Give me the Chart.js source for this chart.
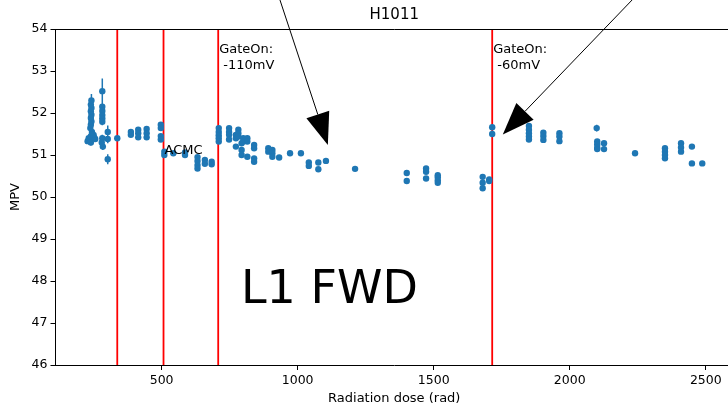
<!DOCTYPE html>
<html>
<head>
<meta charset="utf-8">
<script src="https://cdn.jsdelivr.net/npm/chart.js@4"></script>
<style>
  html, body { margin: 0; padding: 0; background: #fff; overflow: hidden; }
  #wrap { width: 740px; height: 408px; }
</style>
</head>
<body>
<div id="wrap"><canvas id="chart" width="740" height="408"></canvas></div>
<script>
// dose (rad), MPV and the MPV error of every measurement
const dose = [
    228, 232, 236, 240, 244, 238, 240, 242, 240, 242, 240, 242, 240, 242, 240, 252, 256, 250,
    282, 282, 282, 282, 282, 282, 282, 280, 284,
    302, 302, 302,
    337,
    387, 387,
    414, 414, 414,
    445, 445, 445,
    497, 497, 497, 497,
    510, 510,
    543,
    586, 586,
    632, 632, 632, 632,
    659, 659,
    684, 684,
    710, 710, 710, 710, 710,
    748, 748, 748, 748,
    773, 773, 773,
    782, 782, 782,
    794, 794, 794,
    800, 800,
    815, 815, 815,
    840, 840, 840, 840,
    892, 892,
    907, 907, 907,
    932, 972, 1012,
    1041, 1041,
    1076, 1076,
    1104, 1211,
    1401, 1401,
    1472, 1472, 1472,
    1515, 1515, 1515, 1515,
    1680, 1680, 1680,
    1704, 1704,
    1715, 1715,
    1850, 1850, 1850, 1850, 1850,
    1903, 1903, 1903,
    1962, 1962, 1962,
    2099,
    2101, 2101, 2101, 2101,
    2126, 2126,
    2240,
    2350, 2350, 2350, 2350,
    2409, 2409, 2409,
    2449, 2449,
    2487
];
const mpv = [
    51.33, 51.40, 51.36, 51.45, 51.55, 51.64, 51.72, 51.80, 51.88, 51.96, 52.04, 52.12, 52.20, 52.30, 51.30, 51.42, 51.38, 51.48,
    52.52, 52.15, 52.05, 51.95, 51.87, 51.79, 51.40, 51.30, 51.20,
    51.55, 51.38, 50.90,
    51.40,
    51.55, 51.48,
    51.60, 51.52, 51.42,
    51.62, 51.52, 51.42,
    51.72, 51.64, 51.45, 51.37,
    51.08, 51.00,
    51.04,
    51.06, 51.00,
    50.95, 50.86, 50.76, 50.68,
    50.88, 50.79,
    50.84, 50.78,
    51.64, 51.55, 51.47, 51.40, 51.32,
    51.64, 51.55, 51.48, 51.37,
    51.48, 51.40, 51.20,
    51.60, 51.52, 51.44,
    51.28, 51.12, 51.00,
    51.40, 51.32,
    51.40, 51.32, 50.96,
    51.24, 51.16, 50.92, 50.84,
    51.16, 51.08,
    51.12, 51.04, 50.96,
    50.94, 51.04, 51.04,
    50.82, 50.74,
    50.82, 50.66,
    50.86, 50.67,
    50.57, 50.38,
    50.68, 50.60, 50.44,
    50.52, 50.47, 50.40, 50.34,
    50.48, 50.34, 50.21,
    50.42, 50.38,
    51.66, 51.50,
    51.69, 51.60, 51.52, 51.44, 51.37,
    51.53, 51.45, 51.36,
    51.52, 51.44, 51.33,
    51.64,
    51.32, 51.25, 51.17, 51.14,
    51.28, 51.14,
    51.04,
    51.16, 51.08, 51.00, 50.92,
    51.28, 51.18, 51.08,
    51.20, 50.80,
    50.80
];
const mpvErr = [
    0.05, 0.05, 0.05, 0.06, 0.06, 0.07, 0.08, 0.08, 0.08, 0.09, 0.10, 0.10, 0.12, 0.15, 0.08, 0.06, 0.05, 0.05,
    0.30, 0.12, 0.10, 0.10, 0.08, 0.08, 0.08, 0.07, 0.08,
    0.15, 0.10, 0.12,
    0.03,
    0.04, 0.04,
    0.04, 0.04, 0.04,
    0.04, 0.04, 0.04,
    0.05, 0.04, 0.04, 0.04,
    0.04, 0.03,
    0.03,
    0.03, 0.03,
    0.04, 0.04, 0.04, 0.04,
    0.03, 0.03,
    0.03, 0.03,
    0.04, 0.03, 0.03, 0.03, 0.03,
    0.04, 0.04, 0.04, 0.04,
    0.04, 0.04, 0.04,
    0.04, 0.04, 0.04,
    0.04, 0.04, 0.04,
    0.03, 0.03,
    0.03, 0.03, 0.03,
    0.04, 0.04, 0.04, 0.04,
    0.03, 0.03,
    0.03, 0.03, 0.03,
    0.03, 0.03, 0.03,
    0.03, 0.03,
    0.03, 0.03,
    0.03, 0.03,
    0.03, 0.03,
    0.03, 0.03, 0.03,
    0.03, 0.03, 0.03, 0.03,
    0.03, 0.03, 0.03,
    0.03, 0.03,
    0.03, 0.03,
    0.04, 0.04, 0.04, 0.04, 0.04,
    0.03, 0.03, 0.03,
    0.03, 0.03, 0.03,
    0.08,
    0.03, 0.03, 0.03, 0.03,
    0.03, 0.03,
    0.03,
    0.04, 0.04, 0.04, 0.04,
    0.03, 0.03, 0.03,
    0.06, 0.03,
    0.03
];

// dose where something changed (red lines)
const eventDose = [337, 507, 708, 1715];

const xTicks = [500, 1000, 1500, 2000, 2500];
const yTicks = [46, 47, 48, 49, 50, 51, 52, 53, 54];

// texts and arrows, placed in data coordinates
const notes = [
    { x: 708, y: 53.5, lines: ['GateOn:', ' -110mV'], size: 13 },
    { x: 1715, y: 53.5, lines: ['GateOn:', ' -60mV'], size: 13 },
    { x: 507, y: 51.1, lines: ['ACMC'], size: 13 },
    { x: 788, y: 47.76, lines: ['L1 FWD'], size: 46 }
];
const arrows = [
    { fromX: 935, fromY: 54.69, toX: 1111, toY: 51.24 },
    { fromX: 2229, fromY: 54.69, toX: 1754, toY: 51.49 }
];

const blue = '#1f77b4';
const font = 'DejaVu Sans';

const points = dose.map((d, i) => ({ x: d, y: mpv[i] }));

const datasets = [{
    type: 'scatter',
    data: points,
    pointRadius: 3.2,
    pointBorderWidth: 0,
    pointBackgroundColor: blue
}];
eventDose.forEach(d => {
    datasets.push({
        type: 'line',
        data: [{ x: d, y: 46 }, { x: d, y: 54 }],
        borderColor: '#ff0000',
        borderWidth: 1.8,
        pointRadius: 0
    });
});

// error bars, drawn just before the points
const errorBars = {
    id: 'errorBars',
    beforeDatasetDraw(chart, args) {
        if (args.index !== 0) return;
        const ctx = chart.ctx;
        const xs = chart.scales.x, ys = chart.scales.y;
        ctx.save();
        ctx.strokeStyle = blue;
        ctx.lineWidth = 1.5;
        ctx.beginPath();
        dose.forEach((d, i) => {
            const px = xs.getPixelForValue(d);
            ctx.moveTo(px, ys.getPixelForValue(mpv[i] - mpvErr[i]));
            ctx.lineTo(px, ys.getPixelForValue(mpv[i] + mpvErr[i]));
        });
        ctx.stroke();
        ctx.restore();
    }
};

const decorations = {
    id: 'decorations',
    afterDraw(chart) {
        const ctx = chart.ctx;
        const area = chart.chartArea;
        const xs = chart.scales.x, ys = chart.scales.y;
        ctx.save();

        // top and right spines
        ctx.strokeStyle = '#000';
        ctx.lineWidth = 1;
        ctx.beginPath();
        ctx.moveTo(area.left, area.top + 0.5);
        ctx.lineTo(area.right, area.top + 0.5);
        ctx.lineTo(area.right, area.bottom);
        ctx.stroke();

        ctx.fillStyle = '#000';
        ctx.textBaseline = 'middle';

        // title and axis labels
        const cx = (area.left + area.right) / 2;
        ctx.textAlign = 'center';
        ctx.font = '15px "' + font + '"';
        ctx.fillText('H1011', cx, 15);
        ctx.font = '13px "' + font + '"';
        ctx.fillText('Radiation dose (rad)', cx, 399);
        ctx.save();
        ctx.translate(16, (area.top + area.bottom) / 2);
        ctx.rotate(-Math.PI / 2);
        ctx.fillText('MPV', 0, 0);
        ctx.restore();

        // notes
        ctx.textAlign = 'left';
        notes.forEach(n => {
            ctx.font = n.size + 'px "' + font + '"';
            const px = xs.getPixelForValue(n.x) + 1;
            const py = ys.getPixelForValue(n.y);
            n.lines.forEach((t, k) => ctx.fillText(t, px, py + k * n.size * 1.2));
        });

        // arrows
        arrows.forEach(a => {
            const x0 = xs.getPixelForValue(a.fromX), y0 = ys.getPixelForValue(a.fromY);
            const x1 = xs.getPixelForValue(a.toX), y1 = ys.getPixelForValue(a.toY);
            const len = Math.hypot(x1 - x0, y1 - y0);
            const ux = (x1 - x0) / len, uy = (y1 - y0) / len;
            const headLen = 32, headHalf = 12;
            const bx = x1 - ux * headLen, by = y1 - uy * headLen;
            ctx.beginPath();
            ctx.moveTo(x0, y0);
            ctx.lineTo(bx, by);
            ctx.lineWidth = 1;
            ctx.stroke();
            ctx.beginPath();
            ctx.moveTo(x1, y1);
            ctx.lineTo(bx - uy * headHalf, by + ux * headHalf);
            ctx.lineTo(bx + uy * headHalf, by - ux * headHalf);
            ctx.closePath();
            ctx.fill();
        });

        ctx.restore();
    }
};

new Chart(document.getElementById('chart'), {
    type: 'scatter',
    data: { datasets: datasets },
    options: {
        responsive: false,
        devicePixelRatio: 1,
        animation: false,
        events: [],
        layout: { padding: { top: 29, right: 7, left: 0, bottom: 0 } },
        plugins: {
            legend: { display: false },
            tooltip: { enabled: false },
            title: { display: false }
        },
        scales: {
            x: {
                type: 'linear',
                min: 110,
                max: 2600,
                afterBuildTicks: scale => { scale.ticks = xTicks.map(v => ({ value: v })); },
                afterFit: scale => { scale.height = 43; },
                grid: { drawOnChartArea: false, drawTicks: true, tickLength: 5, color: '#000' },
                border: { display: true, color: '#000', width: 1 },
                ticks: {
                    color: '#000',
                    padding: 3,
                    maxRotation: 0,
                    autoSkip: false,
                    font: { family: font, size: 12.5 },
                    callback: v => String(v)
                }
            },
            y: {
                type: 'linear',
                min: 46,
                max: 54,
                afterBuildTicks: scale => { scale.ticks = yTicks.map(v => ({ value: v })); },
                afterFit: scale => { scale.width = 55.5; },
                grid: { drawOnChartArea: false, drawTicks: true, tickLength: 5, color: '#000' },
                border: { display: true, color: '#000', width: 1 },
                ticks: {
                    color: '#000',
                    padding: 3,
                    font: { family: font, size: 12.5 },
                    callback: v => String(v)
                }
            }
        }
    },
    plugins: [errorBars, decorations]
});
</script>
</body>
</html>
